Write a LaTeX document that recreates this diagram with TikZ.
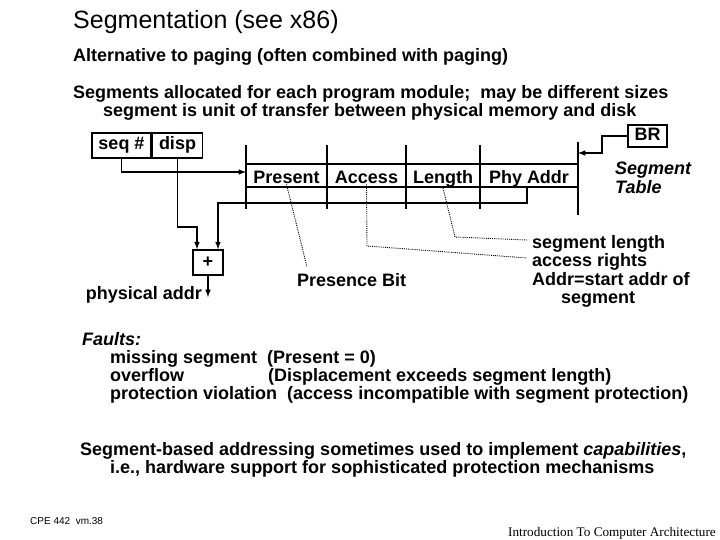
\documentclass[tikz,border=0pt]{standalone}
\usepackage{fontspec}
\setmainfont{Liberation Sans}
\newfontfamily\footserif{Liberation Serif}
\usetikzlibrary{arrows, positioning}

\tikzset{
  body/.style={font=\fontsize{18}{18.5}\selectfont\bfseries, inner sep=0pt, anchor=base west},
  field/.style={draw, line width=1.5pt, minimum height=25pt, inner sep=0pt, text height=12.5pt, text depth=3.5pt, font=\fontsize{18}{18.5}\selectfont\bfseries},
  wire/.style={line width=1.5pt},
  pointer/.style={densely dotted, line width=0.9pt}
}

\begin{document}
\begin{tikzpicture}[x=1pt,y=-1pt]
\useasboundingbox (0,0) rectangle (720,540);

\node[anchor=base west, inner sep=0pt, font=\fontsize{25}{27}\selectfont] (title) at (73,29) {Segmentation (see x86)};
\node[body] (alt) at (73,62) {Alternative to paging (often combined with paging)};
\node[body] (segs) at (73,99) {Segments allocated for each program module;\ \ may be different sizes};
\node[body] (unit) at (103,117) {segment is unit of transfer between physical memory and disk};

% virtual address
\node[field, minimum width=59pt] (seq) at (121.5,145.5) {seq \#};
\node[field, minimum width=50pt, right=0pt of seq] (disp) {disp};

% segment table
\foreach \x in {246,327,406,480}
  \draw[wire] (\x,145) -- (\x,209);
\draw[wire] (578,142) -- (578,215);
\draw[wire] (246,164) -- (578,164);
\draw[wire] (246,187) -- (578,187);
\node[body, anchor=base] (present) at (286.5,184) {Present};
\node[body, anchor=base] (access) at (366.5,184) {Access};
\node[body, anchor=base] (length) at (443,184) {Length};
\node[body, anchor=base] (phyaddr) at (529,184) {Phy Addr};

\node[field, minimum width=39pt, minimum height=22pt] (br) at (647.5,136) {BR};
\node[body, anchor=west, align=left, font=\fontsize{18}{18.5}\selectfont\bfseries\itshape] (segtab) at (615,178) {Segment\\Table};

% adder
\node[field, minimum width=30pt] (plus) at (208,262.5) {+};
\node[body, anchor=base east] (physaddr) at (202,299) {physical addr};

\coordinate (tabin) at (246,172);
\coordinate (dbend) at (197,227);
\coordinate (phyout) at (527,187);
\coordinate (pbend) at (218,203);
\coordinate (paout) at (208,297);
\coordinate (brbend) at (602,153);
\coordinate (tabbase) at (578,153);

\draw[wire,-latex] (seq.south) |- (tabin);
\draw[wire,-latex] (disp.south) |- (dbend) -- (dbend |- plus.north);
\draw[wire,-latex] (phyout) |- (pbend) -- (pbend |- plus.north);
\draw[wire,-latex] (plus.south) -- (paout);
\draw[wire,-latex] (br.west) -| (brbend) -- (tabbase);

% field notes
\node[body] (presbit) at (297,286) {Presence Bit};
\node[body, align=left, anchor=north west] (notes) at (532,235) {segment length\\access rights\\Addr=start addr of\\\hspace*{1.6em}segment};
\coordinate (presend) at (307,267);
\coordinate (accbend) at (367,246);
\coordinate (accend) at (527,258);
\coordinate (lenbend) at (455,237);
\coordinate (lenend) at (527,240);
\draw[pointer] (present.south) -- (presend);
\draw[pointer] (access.south) -- (accbend) -- (accend);
\draw[pointer] (length.south) -- (lenbend) -- (lenend);

% faults
\node[body] (faults) at (82,345) {\itshape Faults:};
\node[body] (miss) at (110,363) {missing segment\ \ (Present = 0)};
\node[body] (over) at (110,381) {overflow};
\node[body] (overwhy) at (268,381) {(Displacement exceeds segment length)};
\node[body] (prot) at (110,399) {protection violation\ \ (access incompatible with segment protection)};

\node[body] (cap1) at (80,455) {Segment-based addressing sometimes used to implement \textit{capabilities},};
\node[body] (cap2) at (110,473) {i.e., hardware support for sophisticated protection mechanisms};

\node[anchor=west, inner sep=0pt, font=\fontsize{10}{11}\selectfont] (course) at (30,521) {CPE 442\ \ vm.38};
\node[anchor=base east, inner sep=0pt, font=\footserif\fontsize{13.2}{14}\selectfont] (book) at (716,536) {Introduction To Computer Architecture};
\end{tikzpicture}
\end{document}
